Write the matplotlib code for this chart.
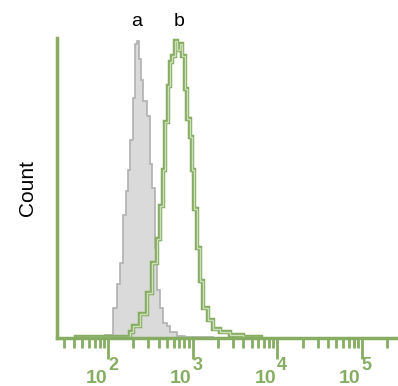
import numpy as np
import matplotlib.pyplot as plt
import matplotlib.transforms as mtransforms
from matplotlib.ticker import LogLocator, NullFormatter

plt.rcParams['font.family'] = 'Liberation Sans'

# histogram a (control, grey filled): bin edges in log10 units, counts in %
a_edges = [1.620, 1.962, 2.057, 2.105, 2.143, 2.181, 2.209, 2.238, 2.257, 2.295,
           2.324, 2.343, 2.371, 2.390, 2.409, 2.457, 2.495, 2.523, 2.552, 2.580,
           2.618, 2.647, 2.695, 2.733, 2.818, 2.913, 3.237]
a_counts = [0.4, 1, 10, 18, 25, 41, 49, 56, 66, 80,
            98, 99, 93, 86, 79, 74, 58, 50, 30, 16,
            10, 5, 4, 2, 0.7, 0.3]

# histogram b (stained, green outline)
b_edges = [1.620, 2.257, 2.295, 2.381, 2.457, 2.523, 2.580, 2.618, 2.647, 2.676,
           2.714, 2.733, 2.761, 2.790, 2.818, 2.847, 2.875, 2.913, 2.932, 2.971,
           2.990, 3.018, 3.056, 3.085, 3.123, 3.180, 3.237, 3.323, 3.446, 3.599, 3.808]
b_counts = [0.5, 2, 4, 8, 15, 25, 33, 44, 56, 72,
            84, 92, 94, 99, 96, 98, 94, 83, 73, 67,
            56, 43, 30, 19, 10, 6, 3, 2, 1, 0.5]

labels = ['a', 'b']
label_pos = [2.343, 2.839]
decades = [2, 3, 4, 5]

green = '#86ad62'
green_light = '#cde0bb'

fig = plt.figure(figsize=(3.98, 3.86), dpi=100)
ax = fig.add_axes([0.143, 0.124, 0.857, 0.778])

a_x = 10 ** np.array(a_edges)
b_x = 10 ** np.array(b_edges)
ax.stairs(a_counts, a_x, fill=True, color='#dadada')
ax.stairs(a_counts, a_x, color='#b0b0b0', lw=1.2)
ax.stairs(b_counts, b_x, color=green, lw=3.2)
ax.stairs(b_counts, b_x, color=green_light, lw=1.0)

ax.set_xscale('log')
ax.set_xlim(10 ** 1.397, 10 ** 5.428)
ax.set_ylim(0, 100)

for lab, p in zip(labels, label_pos):
    ax.text(10 ** p, 105.3, lab, ha='center', va='center', fontsize=14,
            clip_on=False)

ax.xaxis.set_major_locator(LogLocator(base=10, numticks=10))
ax.xaxis.set_minor_locator(LogLocator(base=10, subs=np.arange(2, 10), numticks=20))
ax.xaxis.set_major_formatter(NullFormatter())
ax.xaxis.set_minor_formatter(NullFormatter())
ax.tick_params(axis='x', which='major', direction='out', length=15, width=2,
               color=green)
ax.tick_params(axis='x', which='minor', direction='out', length=7, width=2,
               color=green)
ax.set_yticks([])

# tick labels: "10" left of the tick, large exponent right of it
trans = ax.get_xaxis_transform()
t_base = mtransforms.offset_copy(trans, fig=fig, x=-1, y=0, units='dots')
t_exp = mtransforms.offset_copy(trans, fig=fig, x=0, y=2, units='dots')
for d in decades:
    ax.text(10 ** d, -0.15, '10', transform=t_base, ha='right', va='baseline',
            fontsize=14, fontweight='bold', color=green, clip_on=False)
    ax.text(10 ** d, -0.113, str(d), transform=t_exp, ha='left', va='baseline',
            fontsize=13, fontweight='bold', color=green, clip_on=False)

for s in ['top', 'right']:
    ax.spines[s].set_visible(False)
for s in ['left', 'bottom']:
    ax.spines[s].set_color(green)
    ax.spines[s].set_linewidth(2.5)

ax.set_ylabel('Count', fontsize=15, labelpad=14)

fig.savefig('out.png', dpi=100)
